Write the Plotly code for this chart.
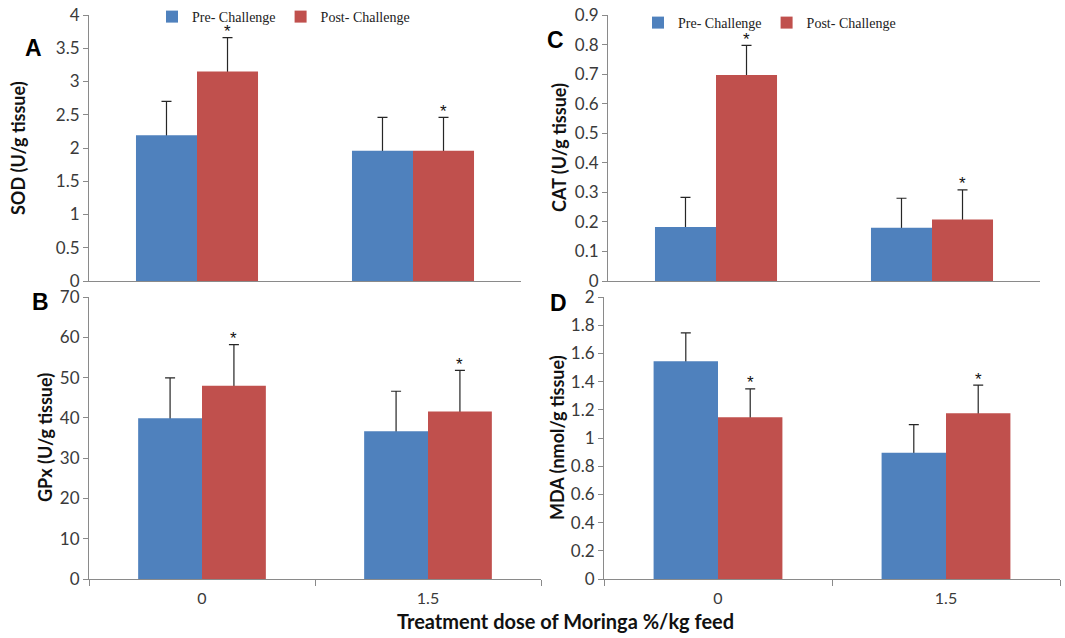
import plotly.graph_objects as go

# ---------------- data ----------------
categories = ["0", "1.5"]
series_names = ["Pre- Challenge", "Post- Challenge"]

sod_pre = [2.19, 1.96]
sod_pre_err = [0.51, 0.50]
sod_post = [3.15, 1.96]
sod_post_err = [0.51, 0.50]

cat_pre = [0.183, 0.180]
cat_pre_err = [0.100, 0.100]
cat_post = [0.697, 0.208]
cat_post_err = [0.100, 0.100]

gpx_pre = [39.9, 36.7]
gpx_pre_err = [10.0, 9.9]
gpx_post = [48.0, 41.6]
gpx_post_err = [10.2, 10.2]

mda_pre = [1.545, 0.895]
mda_pre_err = [0.20, 0.20]
mda_post = [1.148, 1.175]
mda_post_err = [0.20, 0.20]

post_significant = ["*", "*"]

y_titles = ["SOD (U/g tissue)", "CAT (U/g tissue)", "GPx (U/g tissue)", "MDA (nmol/g tissue)"]
x_title = "Treatment dose of Moringa %/kg feed"

# ---------------- style ----------------
W, H = 1065, 638
BLUE = "#4F81BD"
RED = "#C0504D"
AXIS = "#8a8a8a"
TICKTXT = "#3a3a3a"
ERRC = "#262626"
BARGAP = 0.435

# pixel boxes (left, right, top, bottom)
boxes = {
    "A": (89, 521, 15, 281),
    "C": (608, 1040, 15, 281),
    "B": (89, 541, 297, 579),
    "D": (604, 1060, 297, 579),
}
ytitle_x = {"A": 18, "C": 559, "B": 45, "D": 557}

panels = [
    # letter, base suffix, overlay suffix, pre, pre_err, post, post_err, range, dtick, ytitle, bottom?
    ("A", "", "5", sod_pre, sod_pre_err, sod_post, sod_post_err, [0, 4], 0.5, y_titles[0], False),
    ("C", "2", "6", cat_pre, cat_pre_err, cat_post, cat_post_err, [0, 0.9], 0.1, y_titles[1], False),
    ("B", "3", "7", gpx_pre, gpx_pre_err, gpx_post, gpx_post_err, [0, 70], 10, y_titles[2], True),
    ("D", "4", "8", mda_pre, mda_pre_err, mda_post, mda_post_err, [0, 2], 0.2, y_titles[3], True),
]

fig = go.Figure()
annotations = []
layout_axes = {}

for letter, sfx, osfx, pre, pre_e, post, post_e, yr, dt, ytitle, bottom in panels:
    xa, ya = "x" + sfx, "y" + sfx
    oxa, oya = "x" + osfx, "y" + osfx
    legend_name = {"A": "legend", "C": "legend2"}.get(letter)
    series = [(series_names[0], pre, pre_e, BLUE), (series_names[1], post, post_e, RED)]
    # error bars on the base subplot (bars themselves transparent) -> lower half hidden by real bars
    for name, vals, errs, col in series:
        fig.add_trace(go.Bar(
            x=categories, y=vals, name=name, xaxis=xa, yaxis=ya,
            marker=dict(color="rgba(0,0,0,0)", line=dict(width=0)),
            error_y=dict(type="data", array=errs, color=ERRC, thickness=1.2, width=5),
            showlegend=False, hoverinfo="skip",
        ))
    # visible bars on the overlay subplot, drawn above the error bars
    for name, vals, errs, col in series:
        fig.add_trace(go.Bar(
            x=categories, y=vals, name=name, xaxis=oxa, yaxis=oya,
            marker=dict(color=col, line=dict(width=0)),
            showlegend=legend_name is not None,
            legend=legend_name if legend_name else "legend",
        ))
    l, r, t, b = boxes[letter]
    xdom = [l / W, r / W]
    ydom = [1 - b / H, 1 - t / H]
    layout_axes["xaxis" + sfx] = dict(
        domain=xdom, anchor=ya, type="category", range=[-0.5, 1.5],
        showline=True, linecolor=AXIS, linewidth=1,
        ticks="outside" if bottom else "", tickson="boundaries", ticklen=6, tickcolor=AXIS,
        showticklabels=bottom, showgrid=False, zeroline=False,
        tickfont=dict(family="Lato", size=16, color=TICKTXT),
        ticklabelstandoff=5,
    )
    layout_axes["yaxis" + sfx] = dict(
        domain=ydom, anchor=xa, range=yr, dtick=dt, tick0=0,
        showline=True, linecolor=AXIS, linewidth=1,
        ticks="outside", ticklen=5, tickcolor=AXIS,
        showgrid=False, zeroline=False,
        tickfont=dict(family="Lato", size=17, color=TICKTXT),
    )
    layout_axes["xaxis" + osfx] = dict(
        overlaying=xa, anchor=oya, type="category", range=[-0.5, 1.5], visible=False,
    )
    layout_axes["yaxis" + osfx] = dict(
        overlaying=ya, anchor=oxa, range=yr, visible=False,
    )
    # significance asterisks above post bars
    offset = (1 - BARGAP) / 4
    for i, mark in enumerate(post_significant):
        annotations.append(dict(
            x=i + offset, y=post[i] + post_e[i], xref=xa, yref=ya,
            text=mark, showarrow=False, yanchor="middle", yshift=6,
            font=dict(family="Liberation Sans", size=17, color="#111111"),
        ))
    # y title
    annotations.append(dict(
        x=ytitle_x[letter] / W, y=1 - (t + b) / 2 / H,
        xref="paper", yref="paper", text="<b>%s</b>" % ytitle,
        textangle=-90, showarrow=False, xanchor="center", yanchor="middle",
        font=dict(family="Lato", size=18, color="#111111"),
    ))

# panel letters
letter_pos = {"A": (33, 48), "B": (40, 302), "C": (555, 40), "D": (558, 303)}
for k, (px, py) in letter_pos.items():
    annotations.append(dict(
        x=px / W, y=1 - py / H, xref="paper", yref="paper",
        text="<b>%s</b>" % k, showarrow=False, xanchor="center", yanchor="middle",
        font=dict(family="Liberation Sans", size=23, color="#000000"),
    ))

annotations.append(dict(
    x=565 / W, y=1 - 621 / H, xref="paper", yref="paper",
    text="<b>%s</b>" % x_title, showarrow=False, xanchor="center", yanchor="middle",
    font=dict(family="Lato", size=20, color="#111111"),
))

legend_common = dict(
    orientation="h", xanchor="left", yanchor="middle",
    bgcolor="rgba(0,0,0,0)", borderwidth=0,
    font=dict(family="Liberation Serif", size=14, color="#222222"),
    itemwidth=30, traceorder="normal",
)

fig.update_layout(
    width=W, height=H,
    margin=dict(l=0, r=0, t=0, b=0, autoexpand=False),
    paper_bgcolor="white", plot_bgcolor="white",
    barmode="group", bargap=BARGAP, bargroupgap=0,
    annotations=annotations,
    legend=dict(x=152 / W, y=1 - 17 / H, **legend_common),
    legend2=dict(x=638 / W, y=1 - 23 / H, **legend_common),
    **layout_axes,
)

fig.write_html("out.html")
